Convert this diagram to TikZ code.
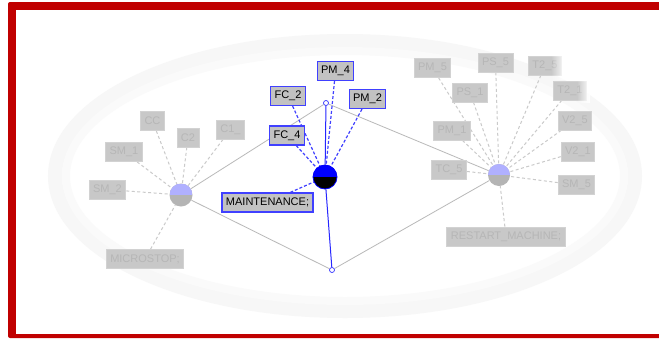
\documentclass[tikz,border=0pt]{standalone}
\usepackage{fontspec}
\setmainfont{Liberation Sans}
\usetikzlibrary{backgrounds,fadings}
\definecolor{framered}{HTML}{C00000}
\definecolor{hubblue}{HTML}{B0B0FF}
\definecolor{hubgray}{HTML}{B4B4B4}
\definecolor{boxfill}{HTML}{C8C8C8}
\definecolor{boxtext}{HTML}{B6B6B6}
\definecolor{boxline}{HTML}{D2D2D2}
\definecolor{activefill}{HTML}{C2C2C2}
\definecolor{activeblue}{HTML}{4040FF}
\begin{document}
\begin{tikzpicture}[x=1pt,y=-1pt,
  every node/.style={font=\fontsize{11}{12}\selectfont},
  stepbox/.style={draw=boxline, fill=boxfill, text=boxtext, minimum height=19pt, inner xsep=4pt, inner ysep=0pt, line width=0.8pt},
  activebox/.style={draw=activeblue, fill=activefill, text=black, minimum height=19pt, inner xsep=4pt, inner ysep=0pt, line width=1.2pt},
  hub/.style={circle, inner sep=0pt, minimum size=23pt, fill=hubgray,
    path picture={\fill[hubblue] (path picture bounding box.west) rectangle (path picture bounding box.north east);}},
  activehub/.style={circle, inner sep=0pt, minimum size=24pt, fill=black, draw=blue, line width=0.8pt,
    path picture={\fill[blue] (path picture bounding box.west) rectangle (path picture bounding box.north east);}},
  joint/.style={circle, draw=blue!80, fill=white, inner sep=0pt, minimum size=5pt, line width=0.7pt},
  fadedlink/.style={boxline!90!gray, line width=1pt, dash pattern=on 3pt off 2.5pt},
  activelink/.style={activeblue, line width=1.2pt, dash pattern=on 3pt off 2pt},
  wire/.style={gray!55, line width=0.8pt},
  activewire/.style={blue!85, line width=1pt}]
	\useasboundingbox (0,0) rectangle (659,338);
	% hubs and joints
	\node[hub] (L) at (181,195) {};
	\node[activehub] (M) at (325,177) {};
	\node[hub, minimum size=22pt] (R) at (499,175) {};
	\node[joint] (top) at (326,103) {};
	\node[joint] (bot) at (332,270) {};
	% left labels
	\node[stepbox] (CC) at (152.5,121) {CC};
	\node[stepbox] (C2) at (188,137.5) {C2};
	\node[stepbox] (C1) at (230.5,129.5) {C1\_};
	\node[stepbox] (SM1) at (124,152) {SM\_1};
	\node[stepbox] (SM2) at (107.5,189.5) {SM\_2};
	\node[stepbox] (MS) at (145,259) {MICROSTOP;};
	% middle labels
	\node[activebox] (PM4) at (335.5,71) {PM\_4};
	\node[activebox] (FC2) at (288,96) {FC\_2};
	\node[activebox] (PM2) at (367.5,99) {PM\_2};
	\node[activebox] (FC4) at (287,135.5) {FC\_4};
	\node[activebox] (MT) at (267.5,202.5) {MAINTENANCE;};
	% right labels
	\node[stepbox] (PM5) at (432.5,68) {PM\_5};
	\node[stepbox] (PS5) at (495.5,62.5) {PS\_5};
	\node[stepbox] (T25) at (545,65.5) {T2\_5};
	\node[stepbox] (PS1) at (470,92.5) {PS\_1};
	\node[stepbox] (T21) at (570,90.5) {T2\_1};
	\node[stepbox] (PM1) at (452,130.5) {PM\_1};
	\node[stepbox] (V25) at (575,120.5) {V2\_5};
	\node[stepbox] (V21) at (578,151.5) {V2\_1};
	\node[stepbox] (TC5) at (449,169.5) {TC\_5};
	\node[stepbox] (SM5) at (576.5,185) {SM\_5};
	\node[stepbox] (RM) at (506,236.5) {RESTART\_MACHINE;};
	% light streak over the upper right
	\fill[white, path fading=west] (551,52) rectangle (566,80);
	\fill[white, path fading=west] (577,78) rectangle (590,103);
	\begin{scope}[on background layer]
		% frame and background ring
		\fill[framered, rounded corners=2pt] (8,2) rectangle (670,338);
		\fill[white] (16,10) rectangle (659,334);
		\draw[gray!6, line width=14pt] (345,176) ellipse [x radius=290, y radius=135];
		\draw[gray!4, line width=8pt] (345,176) ellipse [x radius=279, y radius=125];
		\draw[wire] (L) -- (top) -- (R) -- (bot) -- (L);
		\draw[activewire] (top) -- (M) -- (bot);
		\foreach \n in {CC,C2,C1,SM1,SM2,MS}
			\draw[fadedlink] (\n) -- (L);
		\foreach \n in {PM5,PS5,T25,PS1,T21,PM1,V25,V21,TC5,SM5,RM}
			\draw[fadedlink] (\n) -- (R);
		\foreach \n in {PM4,FC2,PM2,FC4,MT}
			\draw[activelink] (\n) -- (M);
	\end{scope}
\end{tikzpicture}
\end{document}
